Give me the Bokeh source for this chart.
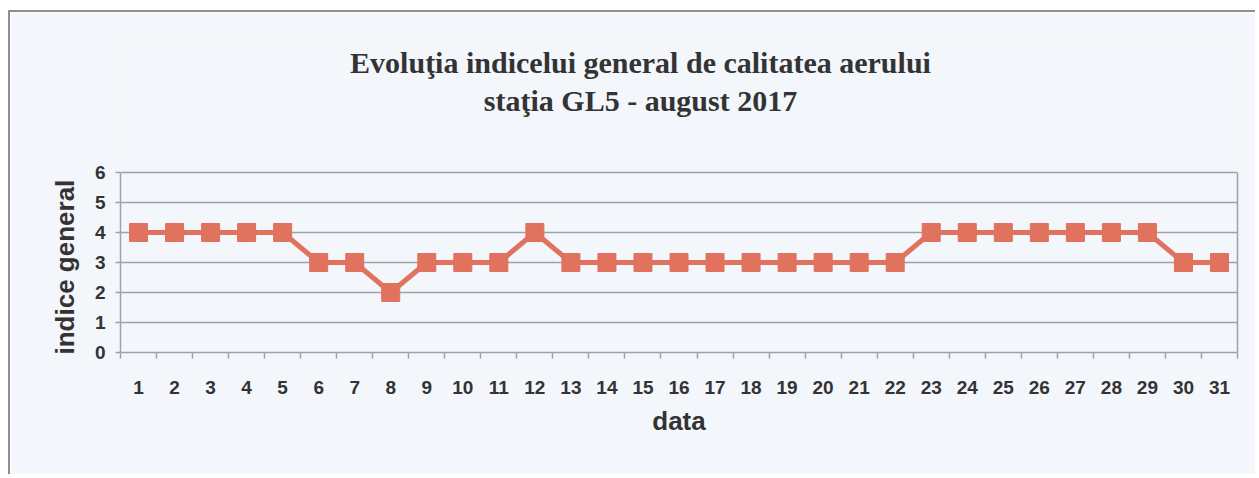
from bokeh.plotting import figure
from bokeh.models import FixedTicker, Range1d, Label, LinearAxis, Title
from bokeh.embed import file_html
from bokeh.resources import INLINE

days = list(range(1, 32))
indice = [4, 4, 4, 4, 4, 3, 3, 2, 3, 3, 3, 4, 3, 3, 3, 3, 3, 3, 3, 3, 3, 3,
          4, 4, 4, 4, 4, 4, 4, 3, 3]
y_ticks = [0, 1, 2, 3, 4, 5, 6]
title_line1 = "Evoluţia indicelui general de calitatea aerului"
title_line2 = "staţia GL5 - august 2017"
x_label = "data"
y_label = "indice general"

BG = "#f3f6fb"
GRID = "#9ea2a8"
TXT = "#333333"
SERIES = "#e0725e"

# the frame is extended upwards so that the two title lines can sit inside it;
# axis, grid and border are bounded to the 0..6 band
p = figure(width=1247, height=464, output_backend="svg", toolbar_location=None,
           x_range=Range1d(0.5, 31.5), y_range=Range1d(0, 10.4),
           min_border_left=110, min_border_right=20, min_border_top=28,
           min_border_bottom=124,
           background_fill_color=BG, border_fill_color=BG)
p.styles = {"border-left": "2px solid #8c8e92", "border-top": "2px solid #8c8e92",
            "margin-top": "10px", "margin-left": "8px"}
p.outline_line_color = None

for txt, yy in ((title_line1, 290), (title_line2, 252)):
    p.add_layout(Label(x=520, y=yy, x_units="screen", y_units="screen", text=txt,
                       text_align="center", text_baseline="middle",
                       text_font="Liberation Serif", text_font_size="30px",
                       text_font_style="bold", text_color=TXT))

p.xgrid.grid_line_color = None
p.yaxis.ticker = FixedTicker(ticks=y_ticks)
p.ygrid.grid_line_color = GRID
p.ygrid.grid_line_width = 1.5

p.xaxis.ticker = FixedTicker(ticks=days, minor_ticks=[d - 0.5 for d in days] + [31.5])
p.xaxis.major_tick_line_color = None
p.xaxis.major_tick_out = 0
p.xaxis.major_tick_in = 0
p.xaxis.minor_tick_in = 0
p.xaxis.minor_tick_out = 6
p.xaxis.minor_tick_line_color = GRID
p.xaxis.minor_tick_line_width = 1.5
p.xaxis.major_label_standoff = 22
p.xaxis.axis_label = x_label
p.xaxis.axis_label_standoff = 9

p.yaxis.bounds = (0, 6)
p.yaxis.minor_tick_line_color = None
p.yaxis.major_tick_in = 0
p.yaxis.major_tick_out = 5
p.yaxis.major_tick_line_color = GRID
p.yaxis.major_tick_line_width = 1.5
p.yaxis.major_label_standoff = 10

for ax in (p.xaxis, p.yaxis):
    ax.axis_line_color = GRID
    ax.axis_line_width = 1.5
    ax.major_label_text_font = "Liberation Sans"
    ax.major_label_text_font_style = "bold"
    ax.major_label_text_font_size = "19px"
    ax.major_label_text_color = TXT
    ax.axis_label_text_font = "Liberation Sans"
    ax.axis_label_text_font_style = "bold"
    ax.axis_label_text_font_size = "26px"
    ax.axis_label_text_color = TXT

# y-axis title, anchored to the bottom of the frame (the 0..6 band)
p.add_layout(Title(text=y_label, align="left", offset=-2, standoff=24,
                   text_font="Liberation Sans", text_font_size="26px",
                   text_font_style="bold", text_color=TXT), "left")

right_border = LinearAxis(bounds=(0, 6), ticker=FixedTicker(ticks=[]),
                          axis_line_color=GRID, axis_line_width=1.5,
                          major_tick_line_color=None, minor_tick_line_color=None,
                          major_label_text_font_size="0px")
p.add_layout(right_border, "right")

p.line(days, indice, line_color=SERIES, line_width=5)
p.scatter(days, indice, marker="square", size=18, fill_color=SERIES,
          line_color=SERIES)

open("out.html", "w").write(file_html(p, INLINE))
